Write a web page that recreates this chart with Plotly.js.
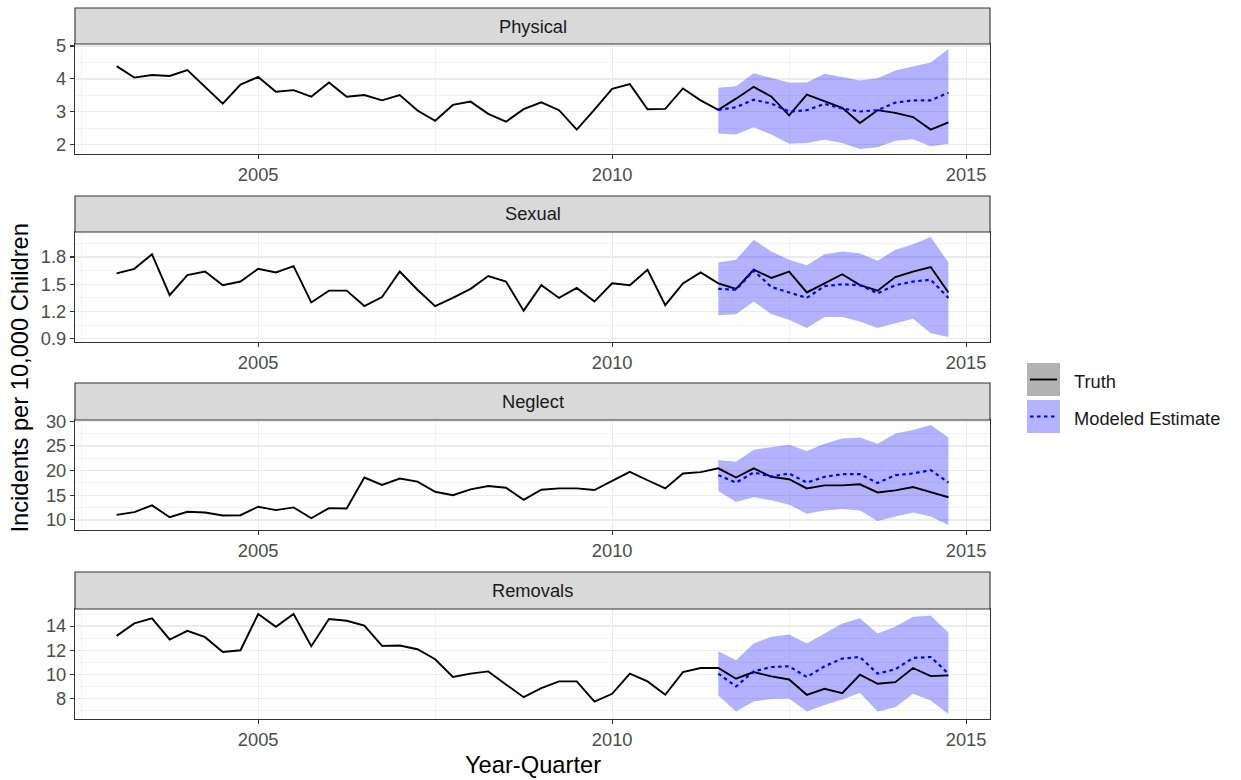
<!DOCTYPE html>
<html>
<head>
<meta charset="utf-8">
<script src="https://cdn.plot.ly/plotly-3.0.1.min.js"></script>
<style>html,body{margin:0;padding:0;background:#fff;}#chart{width:1241px;height:780px;}</style>
</head>
<body>
<div id="chart"></div>
<script>
// ---- DATA ----
const quarters = [2003.00, 2003.25, 2003.50, 2003.75, 2004.00, 2004.25, 2004.50, 2004.75,
  2005.00, 2005.25, 2005.50, 2005.75, 2006.00, 2006.25, 2006.50, 2006.75,
  2007.00, 2007.25, 2007.50, 2007.75, 2008.00, 2008.25, 2008.50, 2008.75,
  2009.00, 2009.25, 2009.50, 2009.75, 2010.00, 2010.25, 2010.50, 2010.75,
  2011.00, 2011.25, 2011.50, 2011.75, 2012.00, 2012.25, 2012.50, 2012.75,
  2013.00, 2013.25, 2013.50, 2013.75, 2014.00, 2014.25, 2014.50, 2014.75];
const forecastQuarters = [2011.50, 2011.75, 2012.00, 2012.25, 2012.50, 2012.75,
  2013.00, 2013.25, 2013.50, 2013.75, 2014.00, 2014.25, 2014.50, 2014.75];

const panelNames = ["Physical", "Sexual", "Neglect", "Removals"];
const seriesNames = ["Truth", "Modeled Estimate"];

const physicalTruth = [4.39, 4.04, 4.12, 4.09, 4.27, 3.76, 3.25, 3.83, 4.06, 3.61, 3.66, 3.46, 3.89, 3.46, 3.51, 3.35,
  3.51, 3.04, 2.73, 3.21, 3.31, 2.94, 2.70, 3.08, 3.29, 3.05, 2.46, 3.07, 3.70, 3.84, 3.08, 3.09,
  3.71, 3.35, 3.06, 3.40, 3.76, 3.46, 2.89, 3.52, 3.32, 3.12, 2.66, 3.05, 2.97, 2.84, 2.46, 2.68];
const physicalEst = [3.06, 3.14, 3.37, 3.25, 3.01, 3.05, 3.24, 3.10, 3.01, 3.05, 3.28, 3.35, 3.35, 3.58];
const physicalLo  = [2.34, 2.31, 2.53, 2.31, 2.03, 2.05, 2.15, 2.05, 1.87, 1.92, 2.12, 2.17, 1.95, 2.03];
const physicalHi  = [3.73, 3.78, 4.17, 4.02, 3.89, 3.89, 4.16, 4.06, 3.95, 4.02, 4.26, 4.38, 4.50, 4.91];

const sexualTruth = [1.62, 1.67, 1.83, 1.38, 1.60, 1.64, 1.49, 1.53, 1.67, 1.63, 1.70, 1.30, 1.43, 1.43, 1.26, 1.36,
  1.64, 1.44, 1.26, 1.35, 1.45, 1.59, 1.53, 1.21, 1.49, 1.35, 1.46, 1.31, 1.51, 1.49, 1.66, 1.27,
  1.51, 1.63, 1.51, 1.45, 1.66, 1.57, 1.64, 1.41, 1.51, 1.61, 1.49, 1.43, 1.58, 1.64, 1.69, 1.41];
const sexualEst = [1.45, 1.44, 1.65, 1.47, 1.41, 1.35, 1.48, 1.50, 1.49, 1.40, 1.49, 1.53, 1.55, 1.35];
const sexualLo  = [1.16, 1.17, 1.31, 1.17, 1.11, 1.02, 1.14, 1.14, 1.09, 1.02, 1.07, 1.12, 0.96, 0.92];
const sexualHi  = [1.74, 1.77, 1.99, 1.86, 1.77, 1.71, 1.83, 1.86, 1.84, 1.76, 1.88, 1.94, 2.02, 1.74];

const neglectTruth = [11.03, 11.58, 12.95, 10.55, 11.65, 11.51, 10.89, 10.96, 12.68, 11.99, 12.54, 10.34, 12.40, 12.33, 18.59, 17.08,
  18.38, 17.77, 15.71, 15.02, 16.19, 16.87, 16.53, 14.06, 16.12, 16.39, 16.39, 16.05, 17.90, 19.75, 18.04, 16.39,
  19.42, 19.69, 20.45, 18.59, 20.45, 18.73, 18.25, 16.39, 17.01, 17.01, 17.22, 15.57, 15.98, 16.67, 15.64, 14.60];
const neglectEst = [19.07, 17.56, 19.62, 18.80, 19.42, 17.56, 18.73, 19.28, 19.28, 17.48, 19.07, 19.42, 20.10, 17.56];
const neglectLo  = [15.84, 13.65, 14.60, 13.98, 13.09, 11.24, 11.92, 12.21, 11.92, 9.79, 10.68, 11.51, 10.68, 8.97];
const neglectHi  = [22.16, 21.81, 24.23, 24.78, 25.26, 23.95, 25.46, 26.49, 26.70, 25.46, 27.53, 28.21, 29.24, 26.70];

const removalsTruth = [13.19, 14.22, 14.64, 12.89, 13.61, 13.08, 11.86, 12.00, 15.00, 13.94, 15.00, 12.33, 14.58, 14.44, 14.03, 12.36,
  12.39, 12.08, 11.25, 9.78, 10.06, 10.25, 9.17, 8.11, 8.86, 9.42, 9.42, 7.75, 8.39, 10.06, 9.42, 8.31,
  10.19, 10.53, 10.53, 9.64, 10.19, 9.83, 9.58, 8.31, 8.81, 8.44, 9.97, 9.22, 9.36, 10.53, 9.86, 9.92];
const removalsEst = [10.06, 9.00, 10.25, 10.61, 10.67, 9.78, 10.67, 11.31, 11.44, 10.06, 10.42, 11.36, 11.44, 10.06];
const removalsLo  = [8.25, 6.92, 7.75, 7.97, 8.00, 6.92, 7.47, 7.92, 8.47, 6.92, 7.28, 8.39, 7.83, 6.72];
const removalsHi  = [11.92, 11.17, 12.56, 13.11, 13.31, 12.56, 13.39, 14.22, 14.64, 13.39, 13.94, 14.78, 14.86, 13.47];

const xTicks = [2005, 2010, 2015];
const yTicks = [[2, 3, 4, 5], [0.9, 1.2, 1.5, 1.8], [10, 15, 20, 25, 30], [8, 10, 12, 14]];
const yMinorStep = [0.5, 0.15, 2.5, 1];

const panels = [
  {truth: physicalTruth, est: physicalEst, lo: physicalLo, hi: physicalHi},
  {truth: sexualTruth, est: sexualEst, lo: sexualLo, hi: sexualHi},
  {truth: neglectTruth, est: neglectEst, lo: neglectLo, hi: neglectHi},
  {truth: removalsTruth, est: removalsEst, lo: removalsLo, hi: removalsHi}
];

// ---- LAYOUT GEOMETRY (pixels) ----
const W = 1241, H = 780;
const mL = 75, mR = 251, mT = 8, mB = 61;
const plotW = W - mL - mR, plotH = H - mT - mB;
const panelPix = [[44, 154], [232, 342], [420, 530], [609, 719]]; // plot area top/bottom
const stripPix = [[8, 44], [196, 232], [383, 420], [572, 609]];
const py = p => (H - mB - p) / plotH;   // pixel y -> paper y
const px = p => (p - mL) / plotW;       // pixel x -> paper x

const FONT = "Liberation Sans, Arial, Helvetica, sans-serif";
const TXT = 18.3, TITLE = 23.7;
const GRID = "#EBEBEB";
const BORDER = "#333333";

function expand(lo, hi) { const s = hi - lo; return [lo - 0.05 * s, hi + 0.05 * s]; }
const xr = expand(Math.min(...quarters), Math.max(...quarters));

const traces = [];
const layout = {
  width: W, height: H,
  margin: {l: mL, r: mR, t: mT, b: mB, pad: 0},
  paper_bgcolor: "#ffffff", plot_bgcolor: "#ffffff",
  showlegend: false,
  font: {family: FONT, size: TXT, color: "#4D4D4D"},
  shapes: [], annotations: []
};

panels.forEach((p, i) => {
  const xa = i === 0 ? "x" : "x" + (i + 1);
  const ya = i === 0 ? "y" : "y" + (i + 1);
  traces.push({x: forecastQuarters, y: p.lo, xaxis: xa, yaxis: ya, type: "scatter", mode: "lines",
    line: {width: 0, color: "rgba(0,0,255,0)"}, hoverinfo: "skip"});
  traces.push({x: forecastQuarters, y: p.hi, xaxis: xa, yaxis: ya, type: "scatter", mode: "lines",
    fill: "tonexty", fillcolor: "rgba(0,0,255,0.3)", line: {width: 0, color: "rgba(0,0,255,0)"}, hoverinfo: "skip"});
  traces.push({x: quarters, y: p.truth, xaxis: xa, yaxis: ya, type: "scatter", mode: "lines",
    name: seriesNames[0], line: {color: "#000000", width: 1.9}});
  traces.push({x: forecastQuarters, y: p.est, xaxis: xa, yaxis: ya, type: "scatter", mode: "lines",
    name: seriesNames[1], line: {color: "#0000FF", width: 2.2, dash: "3.5px,3.5px"}});

  const all = p.truth.concat(p.est, p.lo, p.hi);
  const yr = expand(Math.min(...all), Math.max(...all));
  const dom = [py(panelPix[i][1]), py(panelPix[i][0])];
  const axCommon = {
    showline: true, mirror: true, linecolor: BORDER, linewidth: 1.1,
    ticks: "outside", ticklen: 4, tickcolor: BORDER, tickwidth: 1.1,
    showgrid: true, gridcolor: GRID, gridwidth: 1.2, zeroline: false,
    tickfont: {family: FONT, size: TXT, color: "#4D4D4D"}
  };
  layout["xaxis" + (i === 0 ? "" : i + 1)] = Object.assign({}, axCommon, {
    anchor: ya, domain: [0, 1], range: xr, tickmode: "array", tickvals: xTicks,
    ticktext: xTicks.map(String),
    minor: {showgrid: true, gridcolor: GRID, gridwidth: 0.6, tick0: 2002.5, dtick: 2.5, ticks: ""}
  });
  layout["yaxis" + (i === 0 ? "" : i + 1)] = Object.assign({}, axCommon, {
    anchor: xa, domain: dom, range: yr, tickmode: "array", tickvals: yTicks[i],
    ticktext: yTicks[i].map(String),
    minor: {showgrid: true, gridcolor: GRID, gridwidth: 0.6, tick0: yTicks[i][0], dtick: yMinorStep[i], ticks: ""}
  });

  // strip
  layout.shapes.push({type: "rect", xref: "paper", yref: "paper", x0: 0, x1: 1,
    y0: py(stripPix[i][1]), y1: py(stripPix[i][0]),
    fillcolor: "#D9D9D9", line: {color: BORDER, width: 1.1}, layer: "above"});
  layout.annotations.push({xref: "paper", yref: "paper", x: 0.5, y: (py(stripPix[i][1]) + py(stripPix[i][0])) / 2,
    text: panelNames[i], showarrow: false, xanchor: "center", yanchor: "middle",
    font: {family: FONT, size: TXT, color: "#1A1A1A"}});
});

// axis titles
layout.annotations.push({xref: "paper", yref: "paper", x: 0.5, y: py(765), text: "Year-Quarter",
  showarrow: false, xanchor: "center", yanchor: "middle", font: {family: FONT, size: TITLE, color: "#000000"}});
layout.annotations.push({xref: "paper", yref: "paper", x: px(19), y: py(378.5), text: "Incidents per 10,000 Children",
  showarrow: false, textangle: -90, xanchor: "center", yanchor: "middle", font: {family: FONT, size: TITLE, color: "#000000"}});

// legend (drawn)
const keyX0 = 1027, keyX1 = 1060;
const keys = [[363, 396], [400, 433]];
layout.shapes.push({type: "rect", xref: "paper", yref: "paper", x0: px(keyX0), x1: px(keyX1),
  y0: py(keys[0][1]), y1: py(keys[0][0]), fillcolor: "#B3B3B3", line: {width: 0}});
layout.shapes.push({type: "line", xref: "paper", yref: "paper", x0: px(keyX0 + 3), x1: px(keyX1 - 3),
  y0: py((keys[0][0] + keys[0][1]) / 2), y1: py((keys[0][0] + keys[0][1]) / 2), line: {color: "#000000", width: 1.9}});
layout.shapes.push({type: "rect", xref: "paper", yref: "paper", x0: px(keyX0), x1: px(keyX1),
  y0: py(keys[1][1]), y1: py(keys[1][0]), fillcolor: "#B3B3FF", line: {width: 0}});
layout.shapes.push({type: "line", xref: "paper", yref: "paper", x0: px(keyX0 + 3), x1: px(keyX1 - 3),
  y0: py((keys[1][0] + keys[1][1]) / 2), y1: py((keys[1][0] + keys[1][1]) / 2), line: {color: "#0000FF", width: 2.2, dash: "3.5px,3.5px"}});
seriesNames.forEach((n, j) => {
  layout.annotations.push({xref: "paper", yref: "paper", x: px(1072), y: py((keys[j][0] + keys[j][1]) / 2 + 2),
    text: n, showarrow: false, xanchor: "left", yanchor: "middle", font: {family: FONT, size: TXT, color: "#1A1A1A"}});
});

Plotly.newPlot("chart", traces, layout, {displayModeBar: false, staticPlot: true});
</script>
</body>
</html>
